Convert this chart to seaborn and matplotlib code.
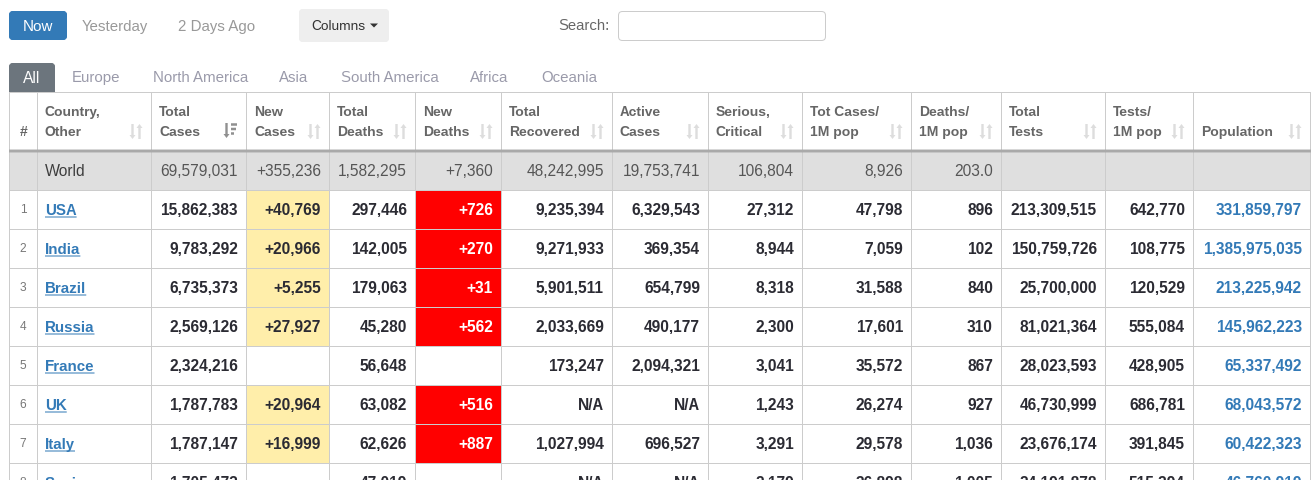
import numpy as np
import pandas as pd
import matplotlib
matplotlib.use("Agg")
import matplotlib.pyplot as plt
from matplotlib.colors import ListedColormap
from matplotlib.patches import FancyBboxPatch
import seaborn as sns

sns.set_theme(style="white")
plt.rcParams['font.family'] = ['Liberation Sans', 'DejaVu Sans']
plt.rcParams['text.hinting'] = 'no_autohint'

# ---------- data ----------
headers = [["#"], ["Country,", "Other"], ["Total", "Cases"], ["New", "Cases"], ["Total", "Deaths"],
           ["New", "Deaths"], ["Total", "Recovered"], ["Active", "Cases"], ["Serious,", "Critical"],
           ["Tot Cases/", "1M pop"], ["Deaths/", "1M pop"], ["Total", "Tests"], ["Tests/", "1M pop"],
           ["Population"]]
world = ["", "World", "69,579,031", "+355,236", "1,582,295", "+7,360", "48,242,995", "19,753,741",
         "106,804", "8,926", "203.0", "", "", ""]
ranks = ["1", "2", "3", "4", "5", "6", "7", "8"]
countries = ["USA", "India", "Brazil", "Russia", "France", "UK", "Italy", "Spain"]
total_cases = ["15,862,383", "9,783,292", "6,735,373", "2,569,126", "2,324,216", "1,787,783", "1,787,147", "1,705,473"]
new_cases = ["+40,769", "+20,966", "+5,255", "+27,927", "", "+20,964", "+16,999", ""]
total_deaths = ["297,446", "142,005", "179,063", "45,280", "56,648", "63,082", "62,626", "47,019"]
new_deaths = ["+726", "+270", "+31", "+562", "", "+516", "+887", ""]
recovered = ["9,235,394", "9,271,933", "5,901,511", "2,033,669", "173,247", "N/A", "1,027,994", "N/A"]
active = ["6,329,543", "369,354", "654,799", "490,177", "2,094,321", "N/A", "696,527", "N/A"]
serious = ["27,312", "8,944", "8,318", "2,300", "3,041", "1,243", "3,291", "2,179"]
cases_pm = ["47,798", "7,059", "31,588", "17,601", "35,572", "26,274", "29,578", "36,898"]
deaths_pm = ["896", "102", "840", "310", "867", "927", "1,036", "1,005"]
tests = ["213,309,515", "150,759,726", "25,700,000", "81,021,364", "28,023,593", "46,730,999", "23,676,174", "24,191,878"]
tests_pm = ["642,770", "108,775", "120,529", "555,084", "428,905", "686,781", "391,845", "515,394"]
population = ["331,859,797", "1,385,975,035", "213,225,942", "145,962,223", "65,337,492", "68,043,572", "60,422,323", "46,760,919"]
top_links = ["Yesterday", "2 Days Ago"]
tabs = ["Europe", "North America", "Asia", "South America", "Africa", "Oceania"]

table = pd.DataFrame({"rank": ranks, "country": countries, "total": total_cases, "new": new_cases,
                      "deaths": total_deaths, "newd": new_deaths, "rec": recovered, "act": active,
                      "ser": serious, "cpm": cases_pm, "dpm": deaths_pm, "tests": tests,
                      "tpm": tests_pm, "pop": population})

# ---------- layout (pixels) ----------
W, H = 1316, 480
col_x = [9, 37, 151, 246, 329, 415, 501, 612, 708, 802, 911, 1001, 1105, 1193, 1310]
head_pad = [0, 7.6, 8.2, 8.2, 8.2, 8.2, 8.2, 7.6, 7.6, 7.6, 7.6, 7.6, 7.6, 8.2]
row_y = [92, 151, 190, 229, 268, 307, 346, 385, 424, 463, 502]
GRID, HEAD, BLUE, TEXT = "#cccccc", "#666666", "#337ab7", "#2b2b33"
LW = 0.72  # one pixel

# background cell codes: 0 white, 1 world grey, 2 yellow, 3 red
codes = np.zeros((H, W), dtype=np.int8)
codes[row_y[1]:row_y[2], col_x[0]:col_x[-1]] = 1
for i in range(len(ranks)):
    y0, y1 = row_y[i + 2], min(row_y[i + 3], H)
    if new_cases[i]:
        codes[y0:y1, col_x[3]:col_x[4]] = 2
    if new_deaths[i]:
        codes[y0:y1, col_x[5]:col_x[6]] = 3

fig = plt.figure(figsize=(W / 100, H / 100), dpi=100)
ax = fig.add_axes([0, 0, 1, 1])
sns.heatmap(codes, ax=ax, cbar=False, xticklabels=False, yticklabels=False, vmin=0, vmax=3,
            cmap=ListedColormap(["#ffffff", "#dfdfdf", "#ffeeaa", "#ff0000"]), rasterized=True)
ax.set_xlim(0, W)
ax.set_ylim(H, 0)
ax.axis("off")


def line(xs, ys, color=GRID, lw=LW, z=3):
    ax.plot(xs, ys, color=color, lw=lw, solid_capstyle="butt", zorder=z, snap=False)


# top controls and tab first, so the table grid lies over them
ax.add_patch(FancyBboxPatch((9.5, 11.5), 57, 28, boxstyle="round,pad=0,rounding_size=3", fc=BLUE, ec=BLUE, lw=LW))
ax.add_patch(FancyBboxPatch((299.5, 9.5), 89, 32, boxstyle="round,pad=0,rounding_size=3", fc="#eeeeee", ec="#eeeeee", lw=LW))
ax.add_patch(FancyBboxPatch((618.5, 11.5), 207, 29, boxstyle="round,pad=0,rounding_size=4", fc="white", ec="#cccccc", lw=LW))
ax.add_patch(FancyBboxPatch((9.5, 63.5), 45, 36, boxstyle="round,pad=0,rounding_size=3", fc="#6c757d", ec="#6c757d", lw=LW, zorder=1))
ax.fill_between([8, 56], 92, 101, color="white", lw=0, zorder=1.5)

# grid lines
for x in col_x:
    line([x + .5, x + .5], [row_y[0], H])
for y in [row_y[0]] + row_y[2:-1]:
    line([col_x[0], col_x[-1] + 1], [y + .5, y + .5])
line([col_x[0], col_x[-1] + 1], [151, 151], "#a9a9a9", 2.1)


def T(x, cy, s, size=11.2, color=TEXT, weight="normal", ha="right", **kw):
    # cy is the optical centre of the digits; text is set on a shared baseline
    base = cy + size * 0.5
    return ax.text(x, base, s, fontsize=size, color=color, fontweight=weight, ha=ha, va="baseline", zorder=4, **kw)


def arrow(x, y_tail, y_tip, color):
    # shaft from the tail to the tip, with a small triangular head
    step = 4 if y_tip > y_tail else -4
    line([x, x], [y_tail, y_tip - step], color, 1.7, 4)
    ax.fill([x - 3, x + 3, x], [y_tip - step, y_tip - step, y_tip], color=color, lw=0, zorder=4)


T(38, 25.5, "Now", 11, "white", ha="center")
T(82, 25.5, top_links[0], 10.9, "#999999", ha="left")
T(178, 25.5, top_links[1], 10.9, "#999999", ha="left")
T(311, 25, "Columns", 9.9, "#333333", ha="left")
ax.fill([370, 378, 374], [23.5, 23.5, 27.5], color="#333333", lw=0)
T(609.5, 24.5, "Search:", 10.7, "#666666")

T(32, 77, "All", 11.2, "white", ha="center")
for s, x in zip(tabs, [72, 153, 279, 341, 470, 541]):
    T(x, 77, s, 10.8, "#9a9aaa", ha="left")

# header
for j, lines in enumerate(headers):
    left = col_x[j] + head_pad[j]
    if j == 0:
        T((col_x[0] + col_x[1]) / 2 + .5, 131, lines[0], 10, HEAD, "bold", ha="center")
        continue
    if len(lines) == 1:
        T(left, 131, lines[0], 10, HEAD, "bold", ha="left")
    else:
        T(left, 111, lines[0], 10, HEAD, "bold", ha="left")
        T(left, 131, lines[1], 10, HEAD, "bold", ha="left")
    edge = col_x[j + 1] - 9
    if j == 2:
        arrow(edge - 10.5, 123, 138, "#909090")
        for k, ln in enumerate([6, 5, 3]):
            line([edge - 6, edge - 6 + ln], [124.5 + 4.5 * k] * 2, "#909090", 1.8, 4)
    else:
        arrow(edge - 9.5, 124, 139, "#dddddd")
        arrow(edge - 2.5, 139, 124, "#dddddd")

# world row
cy = 170.5
T(col_x[1] + 8, cy, world[1], ha="left", color="#3c3c3c")
for j in range(2, len(world)):
    T(col_x[j + 1] - 8, cy, world[j], color="#555555")

# body rows
for i, row in enumerate(table.itertuples(index=False)):
    cy = row_y[i + 2] + 19.5
    T((col_x[0] + col_x[1]) / 2, cy - .5, row[0], 8.6, "#777777", ha="center")
    t = T(col_x[1] + 8, cy, row[1], 10.9, BLUE, "bold", ha="left")
    bb = t.get_window_extent(fig.canvas.get_renderer())
    line([bb.x0, bb.x1], [cy + 7.5, cy + 7.5], BLUE)
    for j in range(2, len(row)):
        color = TEXT
        if j == 5:
            color = "white"
        if j == 13:
            color = BLUE
        T(col_x[j + 1] - 8, cy, row[j], color=color, weight="bold")

fig.savefig("out.png", dpi=100)
